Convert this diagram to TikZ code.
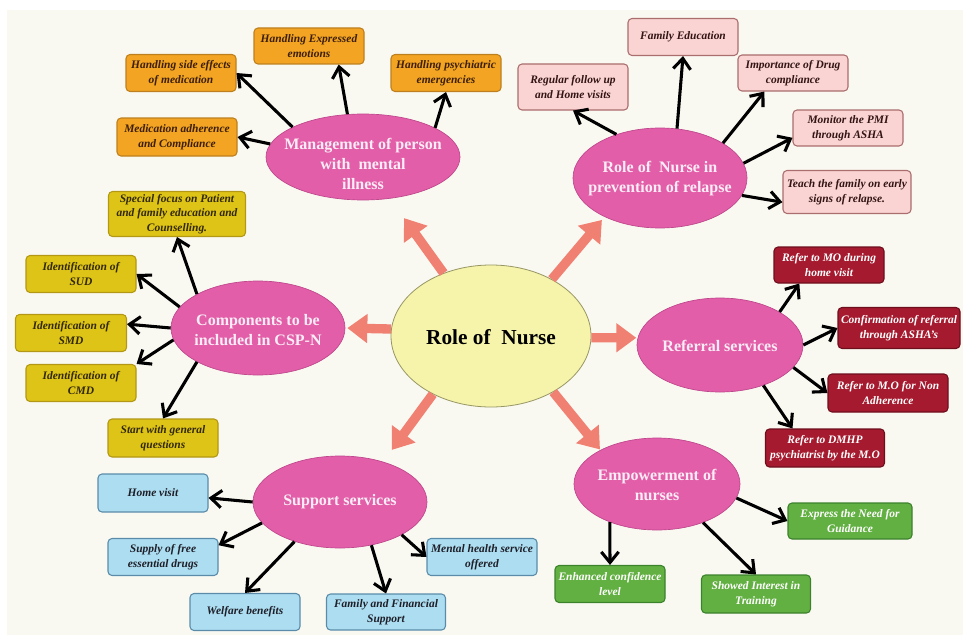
\documentclass[tikz,border=0pt]{standalone}
\usepackage{fontspec}
\setmainfont{Liberation Serif}
\usetikzlibrary{shapes.geometric,arrows.meta}
\definecolor{bgc}{RGB}{250,249,241}
\definecolor{pinkF}{RGB}{226,94,168}
\definecolor{pinkD}{RGB}{190,70,140}
\definecolor{pinkT}{RGB}{252,236,246}
\definecolor{yelF}{RGB}{246,244,170}
\definecolor{yelD}{RGB}{150,150,100}
\definecolor{salmon}{RGB}{240,128,114}
\definecolor{orF}{RGB}{242,164,34}
\definecolor{orD}{RGB}{190,128,30}
\definecolor{orT}{RGB}{60,30,10}
\definecolor{lpF}{RGB}{250,212,210}
\definecolor{lpD}{RGB}{170,110,110}
\definecolor{lpT}{RGB}{50,20,20}
\definecolor{ygF}{RGB}{222,196,22}
\definecolor{ygD}{RGB}{178,152,20}
\definecolor{ygT}{RGB}{50,40,10}
\definecolor{rdF}{RGB}{165,26,46}
\definecolor{rdD}{RGB}{110,15,30}
\definecolor{blF}{RGB}{172,221,240}
\definecolor{blD}{RGB}{90,140,170}
\definecolor{blT}{RGB}{30,30,40}
\definecolor{grF}{RGB}{98,176,66}
\definecolor{grD}{RGB}{60,130,45}
\tikzset{
  sz/.style 2 args={minimum width=#1*0.75pt, minimum height=#2*0.75pt},
  esz/.style 2 args={minimum width=#1*1.5pt, minimum height=#2*1.5pt},
  box/.style={rectangle, rounded corners=3pt, draw, line width=0.8pt,
    font=\bfseries\itshape\fontsize{8.6}{11}\selectfont, align=center,
    inner xsep=1pt, inner ysep=1pt},
  obox/.style={box, fill=orF, draw=orD, text=orT},
  pbox/.style={box, fill=lpF, draw=lpD, text=lpT},
  ybox/.style={box, fill=ygF, draw=ygD, text=ygT},
  rbox/.style={box, fill=rdF, draw=rdD, text=white},
  bbox/.style={box, fill=blF, draw=blD, text=blT},
  gbox/.style={box, fill=grF, draw=grD, text=white},
  pell/.style={ellipse, fill=pinkF, draw=pinkD, line width=0.5pt, inner sep=0pt},
  cell/.style={ellipse, fill=yelF, draw=yelD, line width=0.6pt, inner sep=0pt},
  ptxt/.style={font=\bfseries\fontsize{12}{15}\selectfont, text=pinkT, align=center},
  ctxt/.style={font=\bfseries\fontsize{16}{19}\selectfont, text=black},
  blk/.style={line width=2.3pt, -{Straight Barb[length=8pt,width=13pt]}},
  sal/.style={line width=7pt, draw=salmon, -{Triangle[length=15pt,width=21pt]}},
}
\begin{document}
\begin{tikzpicture}[x=0.75pt,y=-0.75pt]
\fill[white] (0,0) rectangle (963,635);
\fill[bgc] (7,10) rectangle (963,635);
\useasboundingbox (0,0) rectangle (963,635);

% central node
\node[cell, esz={100}{71}] (rn) at (491,336) {};
\node[ctxt] (rnt) at (491,337) {Role of\ \ Nurse};

% pink ellipses
\node[pell, esz={97}{43}] (mgmt) at (363,157) {};
\node[ptxt] (mgmtt) at (363,164) {Management of person\\with\ \ mental\\illness};
\node[pell, esz={87}{50}] (rel) at (660,178) {};
\node[ptxt] (relt) at (660,179) {Role of\ \ Nurse in\\prevention of relapse};
\node[pell, esz={87}{47}] (comp) at (258,328) {};
\node[ptxt] (compt) at (258,330) {Components to be\\included in CSP-N};
\node[pell, esz={83}{47}] (ref) at (720,345) {};
\node[ptxt] (reft) at (720,346) {Referral services};
\node[pell, esz={87}{46}] (sup) at (340,502) {};
\node[ptxt] (supt) at (340,502) {Support services};
\node[pell, esz={83}{46}] (emp) at (657,484) {};
\node[ptxt] (empt) at (657,485) {Empowerment of\\nurses};

% salmon arrows
\draw[sal, shorten >=18pt] (rn.127.7) -- (mgmt.-57.6);
\draw[sal, shorten >=3pt] (rn.43.6) -- (rel.215.3);
\draw[sal, shorten >=1.5pt] (rn.176) -- (comp.0);
\draw[sal, shorten >=1pt] (rn.-1) -- (ref.175);
\draw[sal, shorten >=11pt] (rn.225) -- (sup.43);
\draw[sal, shorten >=0.5pt] (rn.-42.8) -- (emp.149);

% orange boxes
\node[obox, sz={110}{37}] (sideeff) at (181,73) {Handling side effects\\of medication};
\node[obox, sz={110}{36}] (expr) at (309,46) {Handling Expressed\\emotions};
\node[obox, sz={110}{37}] (psych) at (446,73) {Handling psychiatric\\emergencies};
\node[obox, sz={120}{38}] (medadh) at (177,137) {Medication adherence\\and Compliance};

% light pink boxes
\node[pbox, sz={110}{37}] (famedu) at (683,37) {Family Education};
\node[pbox, sz={110}{46}] (regular) at (573,87) {Regular follow up\\and Home visits};
\node[pbox, sz={110}{36}] (impdrug) at (793,73) {Importance of Drug\\compliance};
\node[pbox, sz={110}{36}] (monitor) at (848,128) {Monitor the PMI\\through ASHA};
\node[pbox, sz={128}{43}] (teach) at (847,192) {Teach the family on early\\signs of relapse.};

% yellow boxes
\node[ybox, sz={137}{45}] (special) at (177,214) {Special focus on Patient\\and family education and\\Counselling.};
\node[ybox, sz={110}{37}] (sud) at (81,274) {Identification of\\SUD};
\node[ybox, sz={111}{37}] (smd) at (71,333) {Identification of\\SMD};
\node[ybox, sz={110}{37}] (cmd) at (81,383) {Identification of\\CMD};
\node[ybox, sz={110}{38}] (startq) at (163,438) {Start with general\\questions};

% dark red boxes
\node[rbox, sz={110}{36}] (mo) at (829,265) {Refer to MO during\\home visit};
\node[rbox, sz={122}{41}] (confirm) at (899,328) {Confirmation of referral\\through ASHA's};
\node[rbox, sz={120}{38}] (nonadh) at (888,393) {Refer to M.O for Non\\Adherence};
\node[rbox, sz={119}{38}] (dmhp) at (825,448) {Refer to DMHP\\psychiatrist by the M.O};

% blue boxes
\node[bbox, sz={110}{38}] (home) at (153,493) {Home visit};
\node[bbox, sz={110}{37}] (supply) at (163,557) {Supply of free\\essential drugs};
\node[bbox, sz={110}{37}] (welfare) at (245,612) {Welfare benefits};
\node[bbox, sz={119}{36}] (family) at (386,612) {Family and Financial\\Support};
\node[bbox, sz={110}{37}] (mental) at (482,557) {Mental health service\\offered};

% green boxes
\node[gbox, sz={124}{36}] (express) at (850,521) {Express the Need for\\Guidance};
\node[gbox, sz={110}{37}] (enhanced) at (610,584) {Enhanced confidence\\level};
\node[gbox, sz={109}{38}] (showed) at (756,594) {Showed Interest in\\Training};

% black arrows: management
\draw[blk] (mgmt.157) -- (sideeff.east);
\draw[blk] (mgmt.110) -- (expr.-32);
\draw[blk] (mgmt.22.8) -- (psych.south);
\draw[blk] (mgmt.172.4) -- (medadh.east);
% relapse
\draw[blk] (rel.135.7) -- (regular.south);
\draw[blk] (rel.71.2) -- (famedu.south);
\draw[blk] (rel.29.7) -- (impdrug.-147);
\draw[blk] (rel.10) -- (monitor.190);
\draw[blk] (rel.-12.9) -- (teach.189);
% components
\draw[blk] (comp.151.6) -- (special.south);
\draw[blk] (comp.165.5) -- (sud.east);
\draw[blk] (comp.180) -- (smd.9);
\draw[blk] (comp.188.7) -- (cmd.north east);
\draw[blk] (comp.209.8) -- (startq.north);
% referral
\draw[blk] (ref.29.6) -- (mo.212);
\draw[blk] (ref.0) -- (confirm.west);
\draw[blk] (ref.-17.4) -- (nonadh.west);
\draw[blk] (ref.-43.7) -- (dmhp.149);
% support
\draw[blk] (sup.180) -- (home.-5);
\draw[blk] (sup.195.6) -- (supply.12);
\draw[blk] (sup.221.1) -- (welfare.north);
\draw[blk] (sup.-54.3) -- (family.north);
\draw[blk] (sup.-28.4) -- (mental.west);
% empowerment
\draw[blk] (emp.-10.2) -- (express.west);
\draw[blk] (emp.219.7) -- (enhanced.north);
\draw[blk] (emp.-40.9) -- (showed.north);
\end{tikzpicture}
\end{document}
